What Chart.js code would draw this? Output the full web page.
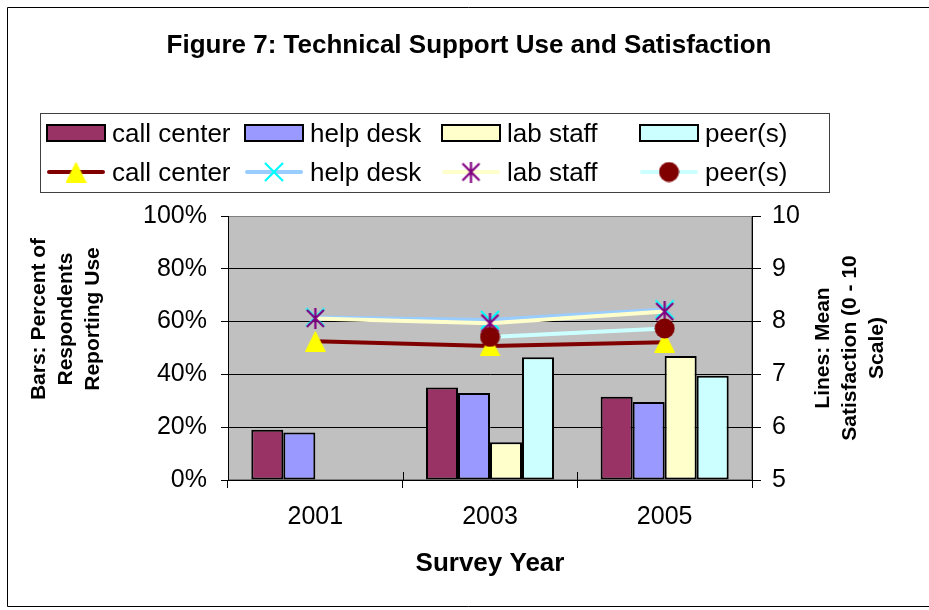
<!DOCTYPE html>
<html><head><meta charset="utf-8">
<script src="https://cdn.jsdelivr.net/npm/chart.js@4/dist/chart.umd.min.js"></script>
<style>html,body{margin:0;padding:0;background:#fff;overflow:hidden}</style>
</head><body>
<canvas id="c" width="929" height="610"></canvas>
<script>
// ---- data ----
const years = ['2001', '2003', '2005'];
const seriesNames = ['call center', 'help desk', 'lab staff', 'peer(s)'];
const useCallCenter = [19, 35, 31.5];
const useHelpDesk   = [18, 33, 29.5];
const useLabStaff   = [null, 14.3, 47];
const usePeers      = [null, 46.5, 39.5];
const satCallCenter = [7.63, 7.54, 7.61];
const satHelpDesk   = [8.08, 8.03, 8.23];
const satLabStaff   = [8.06, 7.97, 8.19];
const satPeers      = [null, 7.71, 7.87];
const pctTicks = [0, 20, 40, 60, 80, 100];
const satTicks = [5, 6, 7, 8, 9, 10];
const chartTitle = 'Figure 7: Technical Support Use and Satisfaction';
const xTitle = 'Survey Year';
const yTitleLeft = ['Bars: Percent of', 'Respondents', 'Reporting Use'];
const yTitleRight = ['Lines: Mean', 'Satisfaction (0 - 10', 'Scale)'];

const FONT = '"Liberation Sans", Arial, Helvetica, sans-serif';

// Excel-like marker glyphs
function mk(w, h, fn) {
  const c = document.createElement('canvas'); c.width = w; c.height = h;
  fn(c.getContext('2d')); return c;
}
const mTriangle = mk(21, 21, (g) => {
  g.fillStyle = '#FFFF00'; g.beginPath(); g.moveTo(10.5, 0); g.lineTo(21, 21); g.lineTo(0, 21); g.closePath(); g.fill();
});
const mX = mk(20, 20, (g) => {
  g.strokeStyle = '#00FFFF'; g.lineWidth = 2.2; g.beginPath();
  g.moveTo(1, 1); g.lineTo(19, 19); g.moveTo(19, 1); g.lineTo(1, 19); g.stroke();
});
const mStar = mk(21, 21, (g) => {
  g.strokeStyle = '#800080'; g.lineWidth = 2.2; g.beginPath();
  g.moveTo(2, 2); g.lineTo(19, 19); g.moveTo(19, 2); g.lineTo(2, 19);
  g.moveTo(10.5, 0); g.lineTo(10.5, 21); g.stroke();
});
const mCircle = mk(21, 21, (g) => {
  g.fillStyle = '#800000'; g.beginPath(); g.arc(10.5, 10.5, 10, 0, Math.PI * 2); g.fill();
});

function barDs(label, data, color) {
  return { type: 'bar', label, data, backgroundColor: color, borderColor: '#000',
    borderWidth: 2, borderSkipped: false, yAxisID: 'y', order: 10,
    categoryPercentage: 0.733, barPercentage: 1 };
}
function lineDs(label, data, color, marker, order) {
  return { type: 'line', label, data, borderColor: color, backgroundColor: color,
    borderWidth: 4, tension: 0, yAxisID: 'y1', order, spanGaps: false,
    pointStyle: marker, pointRadius: 10, pointHoverRadius: 10, clip: false };
}

const decor = {
  id: 'decor',
  beforeDraw(chart) {
    const ctx = chart.ctx, a = chart.chartArea;
    ctx.save();
    ctx.fillStyle = '#fff'; ctx.fillRect(0, 0, chart.width, chart.height);
    // outer border
    ctx.strokeStyle = '#000'; ctx.lineWidth = 1;
    ctx.beginPath();
    ctx.moveTo(chart.width + 5, 7.5); ctx.lineTo(7.5, 7.5); ctx.lineTo(7.5, 606.5); ctx.lineTo(chart.width + 5, 606.5);
    ctx.stroke();
    // plot area
    ctx.fillStyle = '#C0C0C0'; ctx.fillRect(a.left, a.top, a.right - a.left, a.bottom - a.top);
    ctx.strokeStyle = '#808080'; ctx.strokeRect(a.left + 0.5, a.top + 0.5, a.right - a.left - 1, a.bottom - a.top - 1);
    // title
    ctx.fillStyle = '#000';
    ctx.font = 'bold 26px ' + FONT; ctx.textAlign = 'center'; ctx.textBaseline = 'alphabetic';
    ctx.fillText(chartTitle, 469, 53);
    // x title
    ctx.fillText(xTitle, (a.left + a.right) / 2, 571);
    // y titles
    ctx.font = 'bold 21px ' + FONT; ctx.textBaseline = 'middle';
    yTitleLeft.forEach((t, i) => {
      ctx.save(); ctx.translate(39 + i * 27, 319); ctx.rotate(-Math.PI / 2); ctx.fillText(t, 0, 0); ctx.restore();
    });
    yTitleRight.forEach((t, i) => {
      ctx.save(); ctx.translate(823 + i * 27, (a.top + a.bottom) / 2); ctx.rotate(-Math.PI / 2); ctx.fillText(t, 0, 0); ctx.restore();
    });
    // legend
    ctx.strokeStyle = '#404040'; ctx.lineWidth = 1;
    ctx.strokeRect(40.5, 113.5, 789, 79);
    const cols = [47, 245, 442, 640];
    const ds = chart.data.datasets;
    ctx.font = '26px ' + FONT; ctx.textAlign = 'left'; ctx.textBaseline = 'alphabetic';
    for (let i = 0; i < 4; i++) {
      const b = ds[i], l = ds[i + 4], x = cols[i];
      ctx.fillStyle = b.backgroundColor; ctx.fillRect(x, 125, 58, 16);
      ctx.strokeStyle = '#000'; ctx.lineWidth = 2; ctx.strokeRect(x, 125, 58, 16);
      ctx.fillStyle = '#000'; ctx.fillText(b.label, x + 65, 142);
      ctx.strokeStyle = l.borderColor; ctx.lineWidth = l.borderWidth; ctx.lineCap = 'round';
      ctx.beginPath(); ctx.moveTo(x + 2, 172); ctx.lineTo(x + 56, 172); ctx.stroke();
      ctx.lineCap = 'butt';
      const m = l.pointStyle;
      ctx.drawImage(m, x + 29 - m.width / 2, 172 - m.height / 2);
      ctx.fillStyle = '#000'; ctx.fillText(l.label, x + 65, 181);
    }
    ctx.restore();
  },
  afterDraw(chart) {
    // inside half of the cross tick marks on the category axis
    const ctx = chart.ctx, xs = chart.scales.x, a = chart.chartArea;
    ctx.save(); ctx.strokeStyle = '#000'; ctx.lineWidth = 1; ctx.beginPath();
    for (let i = 0; i <= years.length; i++) {
      const px = Math.round(xs.getPixelForValue(i - 0.5)) + 0.5;
      ctx.moveTo(px, a.bottom); ctx.lineTo(px, a.bottom - 8);
    }
    ctx.stroke(); ctx.restore();
  }
};

new Chart(document.getElementById('c'), {
  type: 'bar',
  data: {
    labels: years,
    datasets: [
      barDs(seriesNames[0], useCallCenter, '#993366'),
      barDs(seriesNames[1], useHelpDesk, '#9999FF'),
      barDs(seriesNames[2], useLabStaff, '#FFFFCC'),
      barDs(seriesNames[3], usePeers, '#CCFFFF'),
      lineDs(seriesNames[0], satCallCenter, '#800000', mTriangle, 4),
      lineDs(seriesNames[1], satHelpDesk, '#99CCFF', mX, 3),
      lineDs(seriesNames[2], satLabStaff, '#FFFFCC', mStar, 2),
      lineDs(seriesNames[3], satPeers, '#CCFFFF', mCircle, 1)
    ]
  },
  options: {
    responsive: false, animation: false, devicePixelRatio: 1,
    layout: { padding: { top: 216, left: 0, right: 0, bottom: 0 } },
    plugins: { legend: { display: false }, title: { display: false }, tooltip: { enabled: false } },
    events: [],
    scales: {
      x: {
        offset: true,
        grid: { offset: true, drawOnChartArea: false, drawTicks: true, tickLength: 8, color: '#000', lineWidth: 1 },
        border: { color: '#000', width: 1 },
        ticks: { color: '#000', font: { family: FONT, size: 25 }, padding: 14, maxRotation: 0 },
        afterFit(s) { s.height = 130; }
      },
      y: {
        position: 'left', min: pctTicks[0], max: pctTicks[pctTicks.length - 1],
        grid: { color: (c) => (c.tick && c.tick.value === pctTicks[pctTicks.length - 1]) ? '#808080' : '#000', lineWidth: 1, tickLength: 7, tickColor: '#000' },
        border: { color: '#000', width: 1 },
        ticks: { stepSize: pctTicks[1] - pctTicks[0], color: '#000', font: { family: FONT, size: 25 }, padding: 14,
          callback: (v) => v + '%' },
        afterFit(s) { s.width = 228; }
      },
      y1: {
        position: 'right', min: satTicks[0], max: satTicks[satTicks.length - 1],
        grid: { drawOnChartArea: false, tickLength: 9, color: '#000' },
        border: { color: '#000', width: 1 },
        ticks: { stepSize: satTicks[1] - satTicks[0], color: '#000', font: { family: FONT, size: 25 }, padding: 11 },
        afterFit(s) { s.width = 177; }
      }
    }
  },
  plugins: [decor]
});
</script>
</body></html>
